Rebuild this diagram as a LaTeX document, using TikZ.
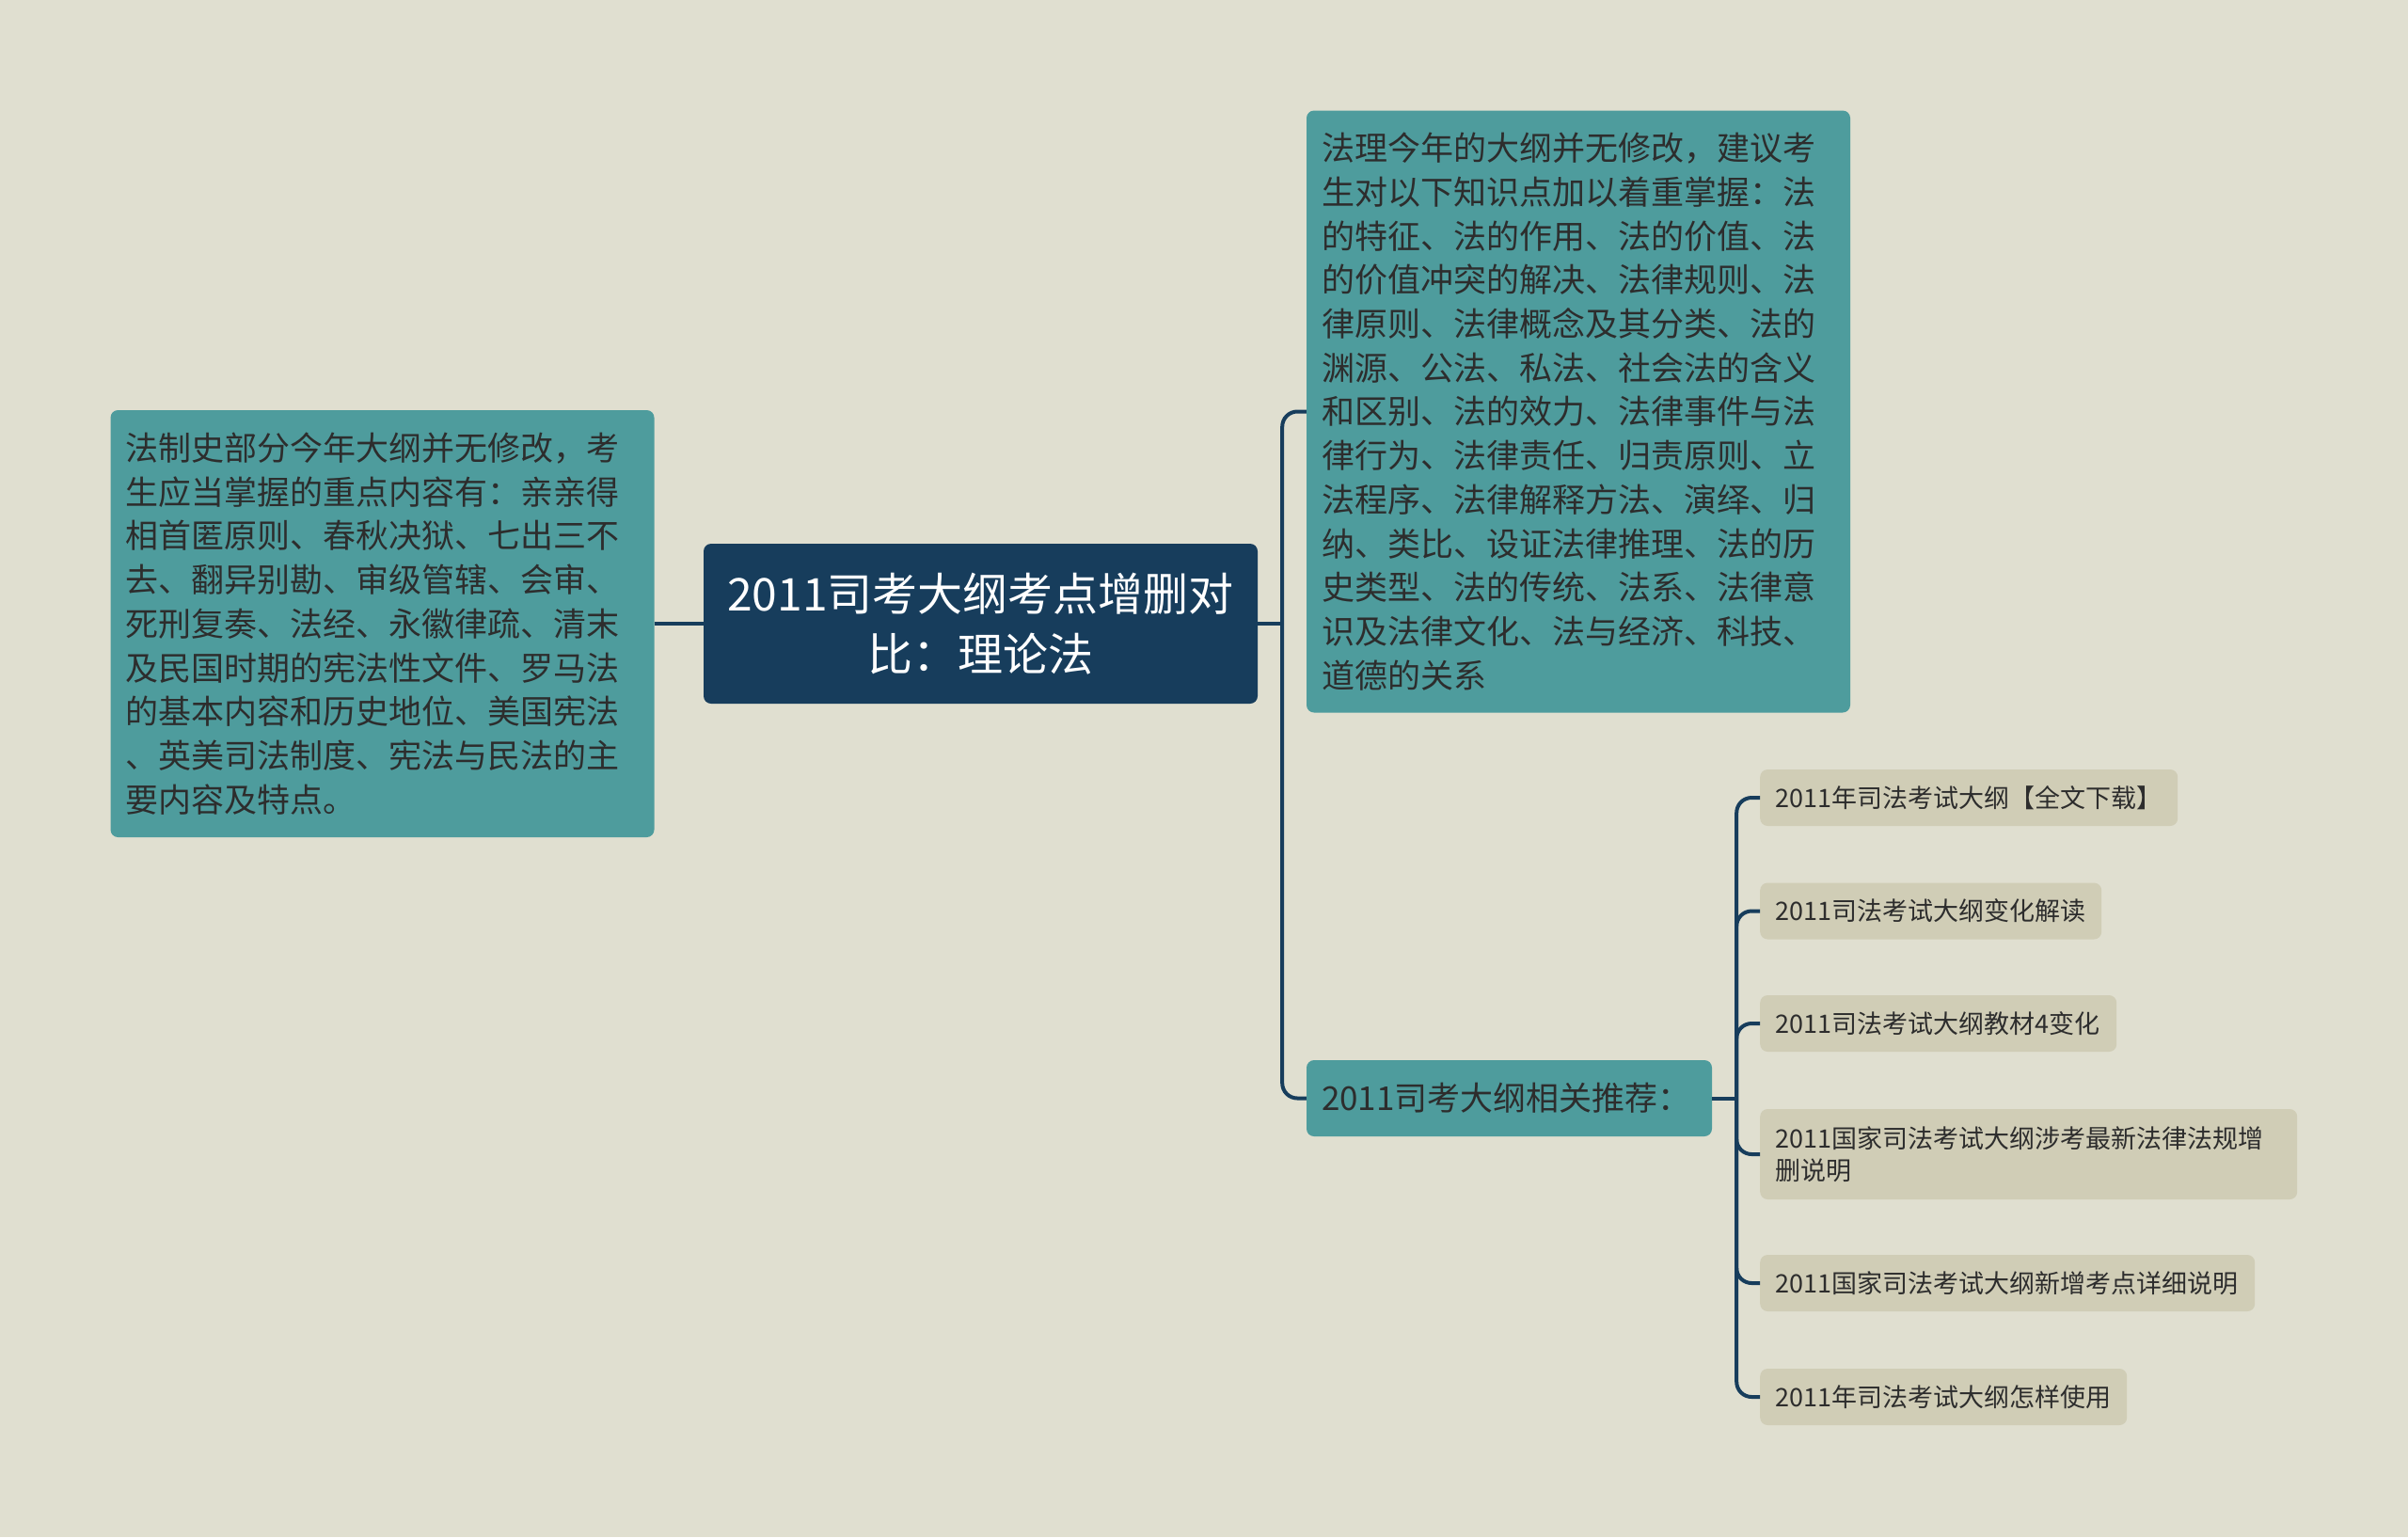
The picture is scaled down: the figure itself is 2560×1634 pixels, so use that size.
\documentclass[tikz,border=0pt]{standalone}
\usepackage{fontspec}
\setmainfont{Noto Sans CJK SC}
\definecolor{bgc}{HTML}{E0DFD0}
\definecolor{tealc}{HTML}{4E9C9D}
\definecolor{rootc}{HTML}{173D5C}
\definecolor{leafc}{HTML}{D0CDB6}
\definecolor{linec}{HTML}{173D5C}
\definecolor{textc}{HTML}{2D2D2D}
\begin{document}
\begin{tikzpicture}[x=1pt,y=-1pt,
  base/.style={rounded corners=8pt, inner xsep=16pt, inner ysep=0pt, draw=none},
  tealbox/.style={base, fill=tealc, text=textc, align=left,
    font=\fontsize{35}{46.7}\selectfont},
  rootbox/.style={base, fill=rootc, text=white, align=center,
    font=\fontsize{48}{64}\selectfont},
  leafbox/.style={base, fill=leafc, text=textc, align=left, anchor=west,
    font=\fontsize{27}{34}\selectfont, minimum height=60pt},
  conn/.style={draw=linec, line width=4pt},
  elbow/.style={conn, rounded corners=16pt}
]
\fill[bgc] (0,0) rectangle (2560,1634);
\useasboundingbox (0,0) rectangle (2560,1634);

% central node
\node[rootbox, minimum width=589pt, minimum height=170pt, text width=557pt] (root) at (1042.5,663)
  {2011司考大纲考点增删对\\比：理论法};

% left node
\node[tealbox, minimum width=578pt, minimum height=454pt, text width=546pt] (hist) at (406.5,663)
  {法制史部分今年大纲并无修改，考\\生应当掌握的重点内容有：亲亲得\\相首匿原则、春秋决狱、七出三不\\去、翻异别勘、审级管辖、会审、\\死刑复奏、法经、永徽律疏、清末\\及民国时期的宪法性文件、罗马法\\的基本内容和历史地位、美国宪法\\、英美司法制度、宪法与民法的主\\要内容及特点。};

% top right node
\node[tealbox, minimum width=578pt, minimum height=640pt, text width=546pt] (theory) at (1678,437.5)
  {法理今年的大纲并无修改，建议考\\生对以下知识点加以着重掌握：法\\的特征、法的作用、法的价值、法\\的价值冲突的解决、法律规则、法\\律原则、法律概念及其分类、法的\\渊源、公法、私法、社会法的含义\\和区别、法的效力、法律事件与法\\律行为、法律责任、归责原则、立\\法程序、法律解释方法、演绎、归\\纳、类比、设证法律推理、法的历\\史类型、法的传统、法系、法律意\\识及法律文化、法与经济、科技、\\道德的关系};

% recommendation node
\node[tealbox, font=\fontsize{35}{40}\selectfont, minimum width=431pt, minimum height=81pt, text width=399pt] (rec) at (1604.5,1167.5)
  {2011司考大纲相关推荐：};

% leaves
\node[leafbox, minimum width=444pt, text width=412pt] (l1) at (1871,848) {2011年司法考试大纲【全文下载】};
\node[leafbox, minimum width=363pt, text width=331pt] (l2) at (1871,968.5) {2011司法考试大纲变化解读};
\node[leafbox, minimum width=379pt, text width=347pt] (l3) at (1871,1088) {2011司法考试大纲教材4变化};
\node[leafbox, minimum width=571pt, text width=539pt, minimum height=96pt] (l4) at (1871,1227) {2011国家司法考试大纲涉考最新法律法规增\\删说明};
\node[leafbox, minimum width=526pt, text width=494pt] (l5) at (1871,1364) {2011国家司法考试大纲新增考点详细说明};
\node[leafbox, minimum width=390pt, text width=358pt] (l6) at (1871,1485) {2011年司法考试大纲怎样使用};

% connectors
\draw[conn] (hist.east) -- (root.west);
\coordinate (j1) at ([xshift=26pt]root.east);
\draw[conn] (root.east) -- (j1);
\draw[elbow] (j1) |- (theory.west);
\draw[elbow] (j1) |- (rec.west);

\coordinate (j2) at ([xshift=26pt]rec.east);
\draw[conn] (rec.east) -- (j2);
\foreach \n in {l1,l2,l3,l4,l5,l6}{
  \draw[elbow] (j2) |- (\n.west);
}
\end{tikzpicture}
\end{document}
